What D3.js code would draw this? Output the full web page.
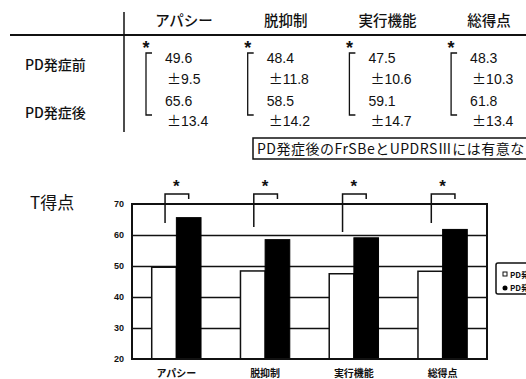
<!DOCTYPE html>
<html>
<head>
<meta charset="utf-8">
<script src="https://cdn.jsdelivr.net/npm/d3@7"></script>
<style>
  body { margin: 0; background: #fff; }
  svg { display: block; }
  text { fill: #111; }
</style>
</head>
<body>
<div id="chart"></div>
<script>
//***************** data *******************/
var categories = ["アパシー", "脱抑制", "実行機能", "総得点"];
var rowLabels = ["PD発症前", "PD発症後"];
var beforeMean = [49.6, 48.4, 47.5, 48.3];
var beforeSD = [9.5, 11.8, 10.6, 10.3];
var afterMean = [65.6, 58.5, 59.1, 61.8];
var afterSD = [13.4, 14.2, 14.7, 13.4];
var yTicks = [20, 30, 40, 50, 60, 70];
var gridTicks = [30, 40, 50, 60];
var bracketLow = [63.9, 62.6, 61.0, 63.9]; // where the left leg of each bracket stops
var bracketTop = 73.2;
var noteText = "PD発症後のFrSBeとUPDRSⅢには有意な";
var yTitle = "T得点";

var W = 526, H = 379;
var jp = "'Noto Sans CJK JP', 'Noto Sans', sans-serif";
var num = "'Liberation Sans', Arial, sans-serif";

var svg = d3.select("#chart").append("svg")
  .attr("width", W).attr("height", H);

//***************** top table *******************/
var tx = d3.scaleBand().domain(categories).range([146, 146 + 4 * 101.7]);

svg.append("line")
  .attr("x1", 10).attr("x2", W).attr("y1", 35).attr("y2", 35)
  .attr("stroke", "#111").attr("stroke-width", 2);
svg.append("line")
  .attr("x1", 124).attr("x2", 124).attr("y1", 12).attr("y2", 132)
  .attr("stroke", "#111").attr("stroke-width", 1.5);

svg.selectAll(".hdr").data(categories).enter().append("text")
  .attr("class", "hdr")
  .attr("x", function(d) { return tx(d) + 38; })
  .attr("y", 26)
  .attr("text-anchor", "middle")
  .attr("font-family", jp).attr("font-size", "14.5px").attr("font-weight", 500)
  .text(function(d) { return d; });

svg.selectAll(".rowlab").data(rowLabels).enter().append("text")
  .attr("class", "rowlab")
  .attr("x", 25)
  .attr("y", function(d, i) { return 70 + i * 48; })
  .attr("font-family", jp).attr("font-size", "14px").attr("font-weight", 500)
  .text(function(d) { return d; });

var cols = svg.selectAll(".col").data(categories).enter().append("g")
  .attr("class", "col")
  .attr("transform", function(d) { return "translate(" + tx(d) + ",0)"; });

cols.append("text")
  .attr("x", 0).attr("y", 54)
  .attr("text-anchor", "middle")
  .attr("font-family", num).attr("font-weight", "bold").attr("font-size", "18px")
  .text("*");
cols.append("path")
  .attr("d", "M6,53H0V115H6")
  .attr("fill", "none").attr("stroke", "#111").attr("stroke-width", 1.3);

function cell(sel, xPos, yPos, pm, vals) {
  var t = sel.append("text").attr("x", xPos).attr("y", yPos)
    .attr("font-family", num).attr("font-size", "14px");
  if (pm) {
    t.append("tspan").attr("font-family", jp).text("±");
  }
  t.append("tspan").text(function(d, i) { return vals[i].toFixed(1); });
}
cell(cols, 19, 63, false, beforeMean);
cell(cols, 21, 84, true, beforeSD);
cell(cols, 19, 106, false, afterMean);
cell(cols, 21, 126, true, afterSD);

//***************** note box *******************/
svg.append("rect")
  .attr("x", 253).attr("y", 138).attr("width", 300).attr("height", 21)
  .attr("fill", "#fff").attr("stroke", "#111").attr("stroke-width", 1.5);
svg.append("text")
  .attr("x", 257).attr("y", 154)
  .attr("font-family", jp).attr("font-size", "14px").attr("letter-spacing", "0.5px")
  .text(noteText);

//***************** chart *******************/
var x0 = d3.scaleBand().domain(categories).range([132, 487]);
var x1 = d3.scaleBand().domain(["before", "after"])
  .range([0, x0.bandwidth()]).paddingInner(0).paddingOuter(0.8);
var y = d3.scaleLinear().domain([20, 70]).range([359, 204]);

svg.append("text")
  .attr("x", 30).attr("y", 209)
  .attr("font-family", jp).attr("font-size", "17px")
  .text(yTitle);

// gridlines
var grid = svg.append("g")
  .attr("class", "gridlines")
  .attr("transform", "translate(" + x0.range()[0] + ",0)")
  .call(d3.axisRight(y)
    .tickValues(gridTicks)
    .tickSize(x0.range()[1] - x0.range()[0])
    .tickFormat(""));
grid.select(".domain").remove();
grid.selectAll("line").attr("stroke", "#111").attr("stroke-width", 1.5);

// bars
var groups = svg.selectAll(".grp").data(categories).enter().append("g")
  .attr("class", "grp")
  .attr("transform", function(d) { return "translate(" + x0(d) + ",0)"; });

groups.append("rect")
  .attr("x", x1("before")).attr("width", x1.bandwidth())
  .attr("y", function(d, i) { return y(beforeMean[i]); })
  .attr("height", function(d, i) { return y(20) - y(beforeMean[i]); })
  .attr("fill", "#fff").attr("stroke", "#111").attr("stroke-width", 1.5);
groups.append("rect")
  .attr("x", x1("after")).attr("width", x1.bandwidth())
  .attr("y", function(d, i) { return y(afterMean[i]); })
  .attr("height", function(d, i) { return y(20) - y(afterMean[i]); })
  .attr("fill", "#000").attr("stroke", "#000").attr("stroke-width", 1);

// frame
svg.append("rect")
  .attr("x", x0.range()[0]).attr("y", y(70))
  .attr("width", x0.range()[1] - x0.range()[0]).attr("height", y(20) - y(70))
  .attr("fill", "none").attr("stroke", "#111").attr("stroke-width", 2);

// y labels
svg.selectAll(".ylab").data(yTicks).enter().append("text")
  .attr("class", "ylab")
  .attr("x", 124).attr("y", function(d) { return y(d) + 3; })
  .attr("text-anchor", "end")
  .attr("font-family", num).attr("font-weight", "bold").attr("font-size", "9px")
  .text(function(d) { return d; });

// significance brackets
groups.append("path")
  .attr("d", function(d, i) {
    var xl = x1("before") + x1.bandwidth() / 2 + 1;
    var xr = x1("after") + x1.bandwidth() / 2;
    return "M" + xl + "," + y(bracketLow[i]) + "V" + y(bracketTop) + "H" + xr + "V" + (y(bracketTop) + 5);
  })
  .attr("fill", "none").attr("stroke", "#111").attr("stroke-width", 1.5);
groups.append("text")
  .attr("x", x1("after"))
  .attr("y", y(bracketTop) - 2)
  .attr("text-anchor", "middle")
  .attr("font-family", num).attr("font-weight", "bold").attr("font-size", "17px")
  .text("*");

// x labels (sit at the very bottom edge, as in the original)
groups.append("text")
  .attr("x", x0.bandwidth() / 2).attr("y", 377)
  .attr("text-anchor", "middle")
  .attr("font-family", jp).attr("font-weight", "bold").attr("font-size", "10px")
  .text(function(d) { return d; });

//***************** legend *******************/
var leg = svg.append("g").attr("transform", "translate(496,263)");
leg.append("rect")
  .attr("x", 0).attr("y", 0).attr("width", 60).attr("height", 31).attr("rx", 2)
  .attr("fill", "#fff").attr("stroke", "#111").attr("stroke-width", 1.5);
leg.append("rect")
  .attr("x", 7).attr("y", 9).attr("width", 4).attr("height", 4)
  .attr("fill", "#fff").attr("stroke", "#111").attr("stroke-width", 1);
leg.append("circle")
  .attr("cx", 9).attr("cy", 25).attr("r", 2.5).attr("fill", "#000");
leg.selectAll(".legtxt").data(rowLabels).enter().append("text")
  .attr("class", "legtxt")
  .attr("x", 14).attr("y", function(d, i) { return 15 + i * 13; })
  .attr("font-family", jp).attr("font-weight", "bold").attr("font-size", "8px")
  .text(function(d) { return d; });
</script>
</body>
</html>
